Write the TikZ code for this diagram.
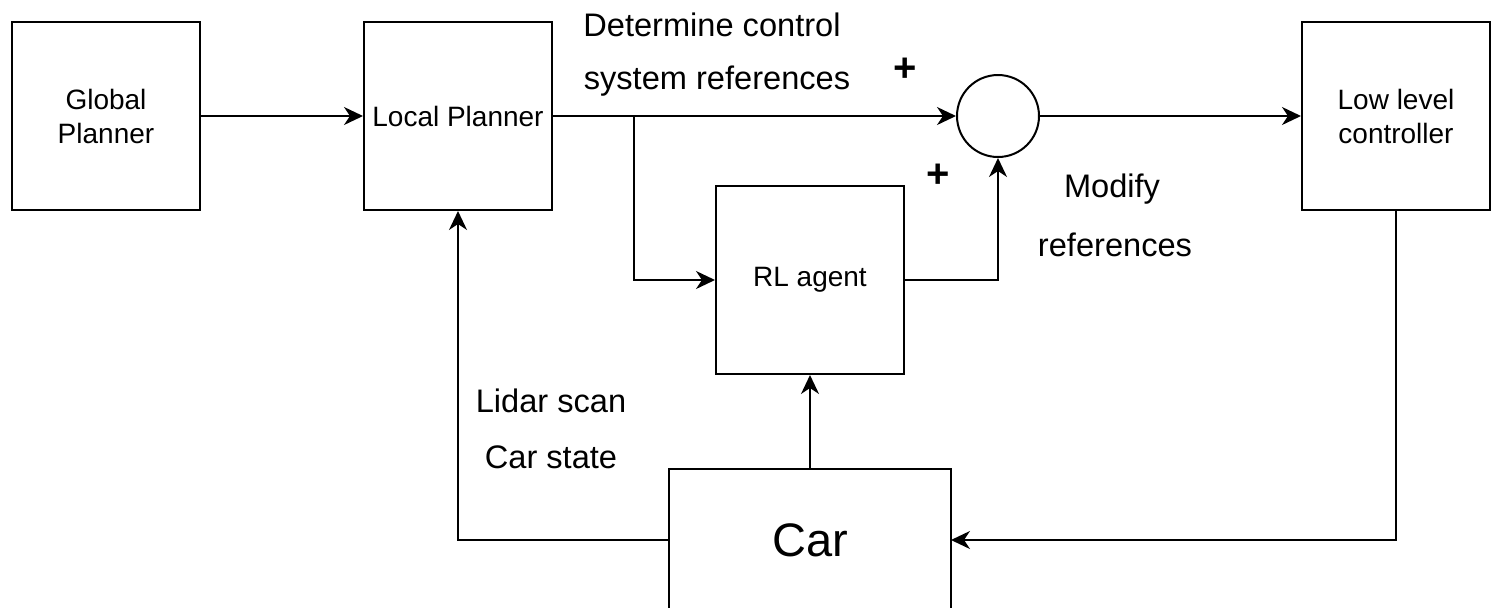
\documentclass[tikz,border=0pt]{standalone}
\usepackage{fontspec}
\setmainfont{Liberation Sans}
\usetikzlibrary{arrows.meta}
\begin{document}
\begin{tikzpicture}[x=0.5pt,y=-0.5pt,
  blk/.style={draw,line width=1pt,minimum width=94pt,minimum height=94pt,inner sep=0pt,align=center,font=\fontsize{14}{17}\selectfont},
  lbl/.style={font=\fontsize{16.3}{19}\selectfont,inner sep=0pt},
  pls/.style={font=\fontsize{20}{20}\selectfont\bfseries,inner sep=0pt},
  conn/.style={line width=1pt,-{Stealth[length=9.5pt,width=9pt,inset=3pt]}}]
\useasboundingbox (0,0) rectangle (1495,607);
\node[blk] (gp) at (106,116) {Global\\Planner};
\node[blk] (lp) at (458,116) {Local Planner};
\node[blk] (rl) at (810,280) {RL agent};
\node[blk] (llc) at (1396,116) {Low level\\controller};
\node[draw,circle,line width=1pt,minimum size=41pt,inner sep=0pt] (sum) at (998,116) {};
\begin{scope}
\clip (0,0) rectangle (1495,607);
\node[draw,line width=1pt,minimum width=141pt,minimum height=100pt,inner sep=0pt,anchor=north,font=\fontsize{23.5}{28}\selectfont] (car) at (810,468) {};
\end{scope}
\node[font=\fontsize{23.5}{28}\selectfont,inner sep=0pt] (cartxt) at (810,540) {Car};
\coordinate (carR) at (951,540);
\coordinate (carL) at (669,540);
\coordinate (br) at (634,116);
\draw[conn] (gp) -- (lp);
\draw[conn] (lp) -- (sum);
\draw[conn] (br) |- (rl);
\draw[conn] (rl.east) -| (sum.south);
\draw[conn] (sum) -- (llc);
\draw[conn] (llc.south) |- (carR);
\draw[conn] (car.north) -- (rl.south);
\draw[conn] (carL) -| (lp.south);
\node[lbl] (t1) at (712,25) {Determine control};
\node[lbl] (t2) at (717,81) {system references};
\node[lbl] (t3) at (1112,189) {Modify};
\node[lbl] (t4) at (1115,245) {references};
\node[lbl] (t5) at (551,401) {Lidar scan};
\node[lbl] (t6) at (551,457) {Car state};
\node[pls] (p1) at (905,70) {+};
\node[pls] (p2) at (938,176) {+};
\end{tikzpicture}
\end{document}
